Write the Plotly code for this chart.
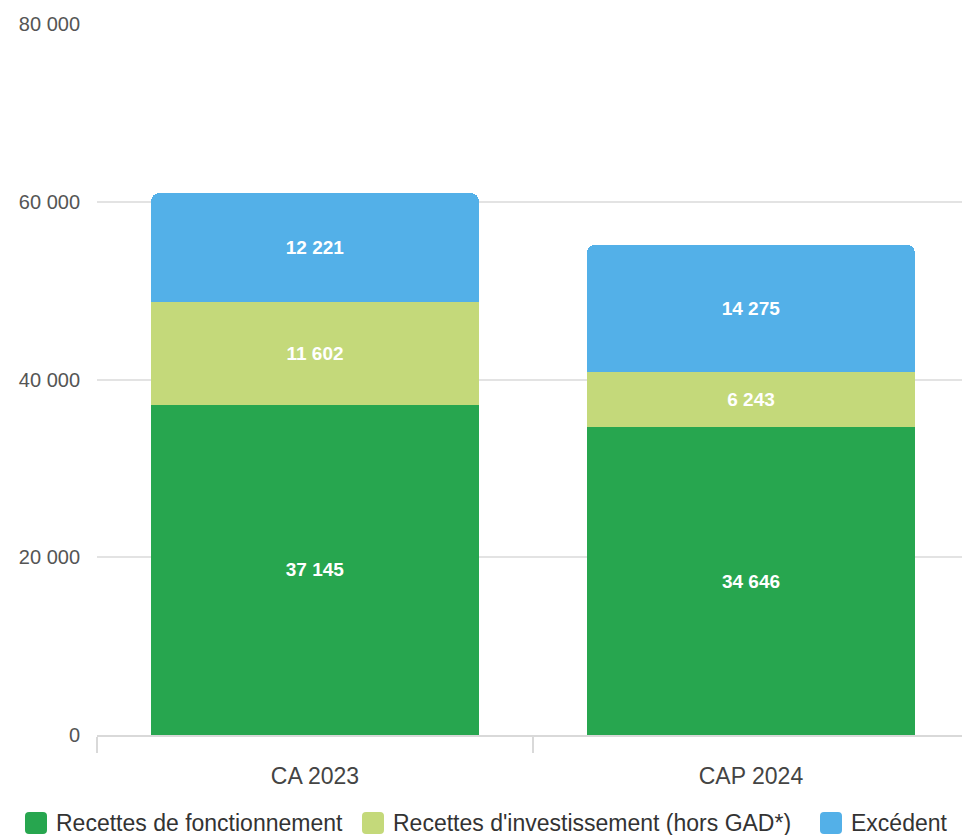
import plotly.graph_objects as go

categories = ["CA 2023", "CAP 2024"]
fonctionnement = [37145, 34646]
investissement = [11602, 6243]
excedent = [12221, 14275]

series_names = [
    "Recettes de fonctionnement",
    "Recettes d'investissement (hors GAD*)",
    "Excédent",
]
series_values = [fonctionnement, investissement, excedent]
series_colors = ["#27a64f", "#c4d97a", "#53b0e8"]

y_ticks = [0, 20000, 40000, 60000, 80000]
y_tick_labels = ["0", "20 000", "40 000", "60 000", "80 000"]

W, H = 962, 835
M_L, M_R, M_T, M_B = 97, 0, 24, 100
PLOT_W = W - M_L - M_R
PLOT_H = H - M_T - M_B


def fr_number(v):
    return f"{v:,}".replace(",", " ")


def px_to_paper(px, py):
    return (px - M_L) / PLOT_W, (H - M_B - py) / PLOT_H


def rounded_square(x0, y0, size, r):
    # path for a small rounded square, given in pixel coordinates
    x1, y1 = x0 + size, y0 + size

    def p(x, y):
        a, b = px_to_paper(x, y)
        return f"{a:.5f},{b:.5f}"

    parts = [
        f"M{p(x0 + r, y0)}",
        f"L{p(x1 - r, y0)}",
        f"Q{p(x1, y0)} {p(x1, y0 + r)}",
        f"L{p(x1, y1 - r)}",
        f"Q{p(x1, y1)} {p(x1 - r, y1)}",
        f"L{p(x0 + r, y1)}",
        f"Q{p(x0, y1)} {p(x0, y1 - r)}",
        f"L{p(x0, y0 + r)}",
        f"Q{p(x0, y0)} {p(x0 + r, y0)}",
    ]
    return " ".join(parts) + " Z"


fig = go.Figure()
for name, vals, color in zip(series_names, series_values, series_colors):
    fig.add_trace(
        go.Bar(
            x=categories,
            y=vals,
            name=name,
            marker=dict(color=color, line=dict(width=0)),
            width=0.752,
            text=[fr_number(v) for v in vals],
            textposition="inside",
            insidetextanchor="middle",
            textfont=dict(color="white", size=19, family="Liberation Sans"),
            texttemplate="<b>%{text}</b>",
            showlegend=False,
            hoverinfo="skip",
        )
    )

# Legend row drawn below the axis: swatch + label per series
legend_swatch_x = [25, 362, 820]
legend_y = 823
swatch = 22
shapes = []
annotations = []
for sx, name, color in zip(legend_swatch_x, series_names, series_colors):
    shapes.append(
        dict(
            type="path",
            xref="paper",
            yref="paper",
            path=rounded_square(sx, legend_y - swatch / 2, swatch, 4),
            fillcolor=color,
            line=dict(width=0),
            layer="above",
        )
    )
    tx, ty = px_to_paper(sx + swatch + 7, legend_y)
    annotations.append(
        dict(
            xref="paper",
            yref="paper",
            x=tx,
            y=ty,
            xanchor="left",
            yanchor="middle",
            text=name,
            showarrow=False,
            font=dict(size=23, color="#333", family="Liberation Sans"),
        )
    )

fig.update_layout(
    barmode="stack",
    barcornerradius=8,
    width=W,
    height=H,
    margin=dict(l=M_L, r=M_R, t=M_T, b=M_B, autoexpand=False),
    paper_bgcolor="white",
    plot_bgcolor="white",
    font=dict(family="Liberation Sans", size=20, color="#444"),
    showlegend=False,
    shapes=shapes,
    annotations=annotations,
    xaxis=dict(
        type="category",
        range=[-0.5, 1.484],
        showgrid=False,
        showline=True,
        linecolor="#d9d9d9",
        linewidth=2,
        ticks="outside",
        tickson="boundaries",
        ticklen=16,
        tickcolor="#d9d9d9",
        tickwidth=2,
        ticklabelstandoff=19,
        tickfont=dict(size=23, color="#444"),
        fixedrange=True,
    ),
    yaxis=dict(
        range=[0, 80000],
        tickvals=y_ticks,
        ticktext=y_tick_labels,
        showgrid=True,
        gridcolor="#e3e3e3",
        gridwidth=2,
        zeroline=False,
        showline=False,
        ticklabelstandoff=16,
        tickfont=dict(size=20, color="#555"),
        fixedrange=True,
    ),
)

fig.write_html("out.html")
